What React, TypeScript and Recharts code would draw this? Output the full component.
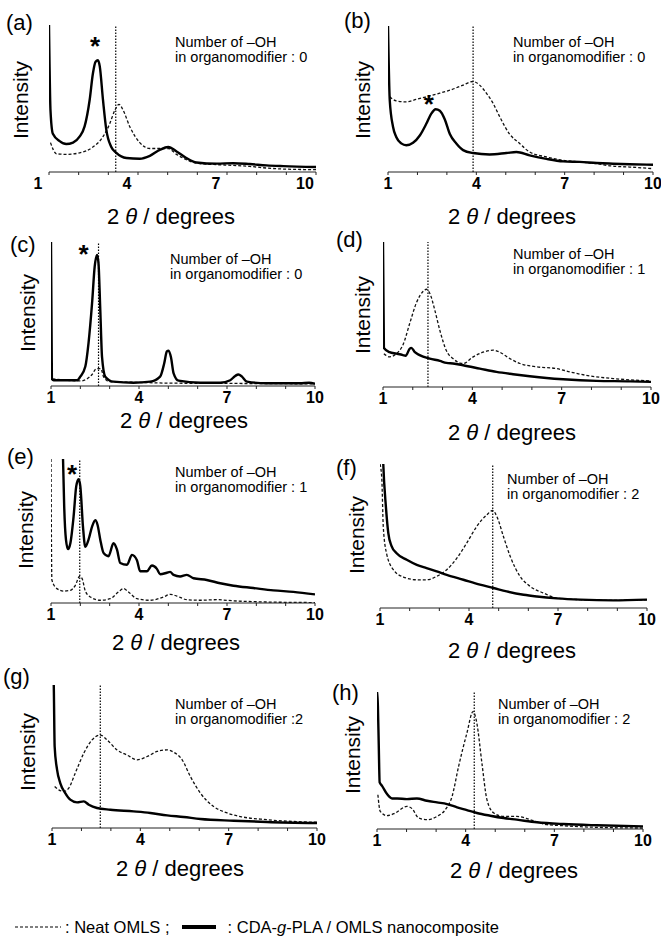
import React from "react";
import { Line, LineChart, ReferenceDot, ReferenceLine, XAxis, YAxis } from "recharts";

const FONT = "Arial, 'Liberation Sans', Helvetica, sans-serif";

// 2θ ticks: minor marks at every degree, labels only on these
const xTicks = [1, 2, 3, 4, 5, 6, 7, 8, 9, 10];
const xLabels = [1, 4, 7, 10];

// [2θ, intensity (0-100 of the frame height)]
const aNeat = [[1.05, 20], [1.25, 12.4], [1.58, 12], [2.03, 13], [2.48, 17], [2.82, 24], [3.05, 33], [3.22, 42], [3.36, 46], [3.5, 42], [3.72, 31], [4.06, 20], [4.4, 16], [4.73, 16], [5.02, 16], [5.3, 12], [5.63, 8.4], [5.97, 6], [6.65, 5], [7.21, 4.5], [7.77, 3.8], [8.33, 2.7], [8.9, 2], [10, 1.6]];
const aComp = [[1.0, 100], [1.05, 42], [1.13, 26], [1.36, 21], [1.58, 19], [1.81, 20], [2.03, 24], [2.2, 31], [2.37, 49], [2.48, 67], [2.57, 75], [2.65, 76], [2.71, 72], [2.82, 49], [2.93, 29], [3.1, 17], [3.27, 13], [3.61, 9.5], [4.06, 9], [4.4, 11], [4.73, 15], [5.02, 17], [5.3, 14], [5.63, 9.5], [5.97, 6.5], [6.65, 5.7], [7.21, 6], [7.77, 5.4], [8.33, 4.5], [8.9, 4], [10, 3.4]];

const bNeat = [[1.06, 51.5], [1.28, 48.7], [1.62, 48], [1.96, 49.7], [2.3, 51.5], [2.76, 54], [3.1, 56], [3.55, 59.5], [3.89, 62], [4.11, 59.5], [4.34, 54], [4.57, 47], [4.79, 38], [5.13, 26], [5.47, 19.5], [5.81, 13.7], [6.38, 10.3], [6.95, 8], [7.51, 6.9], [8.08, 5.7], [8.64, 4], [9.21, 3.4], [10, 2.3]];
const bComp = [[1.0, 100], [1.06, 49], [1.17, 31], [1.28, 24], [1.45, 19.6], [1.62, 18.3], [1.85, 20], [2.08, 25], [2.3, 33], [2.47, 40], [2.62, 43], [2.76, 42], [2.93, 36], [3.1, 26], [3.32, 19.5], [3.55, 15], [3.89, 13], [4.45, 12], [5.02, 13], [5.36, 13.7], [5.81, 11.4], [6.38, 9], [6.95, 7.3], [7.51, 6.9], [8.08, 6.2], [8.64, 5.7], [9.21, 5.3], [10, 5]];

const cNeat = [[1.05, 5], [1.5, 4], [2.0, 3.5], [2.4, 8], [2.55, 12], [2.7, 12], [2.8, 6], [3.0, 3], [4, 2.5], [5, 2], [7, 1.8], [10, 1.5]];
const cComp = [[1.0, 100], [1.03, 5], [1.09, 4], [1.89, 4], [2.0, 6.5], [2.17, 13.5], [2.28, 30], [2.4, 57.5], [2.49, 83], [2.57, 91], [2.62, 85], [2.68, 53], [2.74, 20], [2.85, 6.5], [3.13, 3], [3.81, 2.3], [4.38, 3], [4.72, 6.5], [4.86, 15.8], [4.95, 24], [5.01, 24.6], [5.09, 20], [5.18, 8.8], [5.35, 3.7], [6.09, 2.3], [6.77, 2.3], [7.11, 4], [7.28, 7], [7.39, 8], [7.51, 6.5], [7.68, 3], [8.36, 1.9], [9.49, 1.9], [9.8, 2.3], [10, 1.5]];

const dNeat = [[1.03, 23], [1.22, 20.8], [1.45, 23], [1.67, 29], [1.9, 44], [2.12, 58], [2.35, 66], [2.46, 67.4], [2.57, 64.7], [2.74, 53], [2.91, 39], [3.13, 25], [3.35, 19.6], [3.69, 16.2], [4.03, 20.8], [4.36, 24], [4.7, 25.4], [4.92, 24], [5.26, 19.6], [5.6, 16.2], [6.16, 13.9], [6.83, 12.7], [7.28, 10.4], [7.95, 7.6], [8.74, 5.8], [10, 4.2]];
const dComp = [[1.0, 100], [1.03, 27], [1.22, 24], [1.45, 23], [1.67, 22], [1.76, 21.5], [1.9, 26.5], [1.95, 27], [2.07, 24], [2.23, 22], [2.57, 19.6], [2.91, 18], [3.13, 16.6], [3.35, 16.2], [3.69, 15], [4.25, 12.7], [4.81, 10.4], [5.37, 8.8], [5.93, 7.4], [6.49, 6.2], [7.05, 5.3], [8.17, 4.2], [9.3, 3.9], [10, 3.5]];

const eNeat = [[1.0, 100], [1.03, 16], [1.2, 10], [1.43, 8.3], [1.66, 8.8], [1.83, 12.3], [1.98, 18.6], [2.06, 17], [2.17, 8.3], [2.34, 4.2], [2.68, 1.9], [3.02, 3], [3.3, 7.7], [3.47, 10], [3.64, 7.7], [3.93, 3], [4.38, 1.9], [4.84, 4.2], [5.06, 6], [5.29, 4.8], [5.63, 2.3], [6.09, 1.9], [6.65, 2.3], [7.22, 1.5], [8.36, 0.7], [10, 0.3]];
const eComp = [[1.37, 140], [1.41, 100], [1.45, 67], [1.51, 44], [1.58, 37.4], [1.66, 41.5], [1.77, 60], [1.86, 81], [1.94, 86], [2.0, 81], [2.09, 53], [2.17, 39], [2.28, 44], [2.4, 53], [2.51, 57.5], [2.59, 54], [2.68, 44], [2.79, 34.8], [2.96, 32.5], [3.13, 41.5], [3.25, 37], [3.36, 27.8], [3.59, 26.6], [3.76, 33.4], [3.93, 29.7], [4.04, 22], [4.27, 22], [4.44, 26], [4.61, 23.7], [4.72, 20], [4.95, 21], [5.06, 21.6], [5.18, 19.5], [5.4, 18.4], [5.63, 19.5], [5.86, 17.2], [6.31, 16], [6.77, 13.7], [7.22, 12], [7.9, 10.4], [8.58, 8.8], [9.26, 7.7], [10, 6]];

const fNeat = [[1.0, 100], [1.06, 90], [1.11, 56.6], [1.22, 38], [1.45, 26.6], [1.79, 21.5], [2.24, 19.6], [2.57, 19.6], [2.91, 22], [3.25, 26.6], [3.59, 34.6], [3.92, 45], [4.26, 56.6], [4.6, 64.7], [4.8, 67.7], [4.94, 63.5], [5.16, 49.7], [5.39, 35.8], [5.72, 22], [6.06, 15], [6.51, 10.4], [6.96, 6.9], [7.75, 5.8], [8.87, 5.3], [10, 5.8]];
const fComp = [[1.04, 150], [1.11, 100], [1.2, 70], [1.28, 52], [1.39, 43], [1.56, 38], [1.9, 33.5], [2.24, 30], [2.57, 27.7], [2.91, 25.4], [3.25, 23], [3.81, 19.6], [4.37, 16.2], [4.82, 13.9], [5.27, 11.5], [5.84, 9.2], [6.29, 8], [6.96, 6.7], [7.75, 5.8], [8.87, 5.3], [10, 5.8]];

const gNeat = [[1.09, 29], [1.23, 26.7], [1.4, 25.6], [1.57, 27.9], [1.79, 38.4], [2.08, 52.3], [2.36, 61.6], [2.64, 65], [2.87, 61.6], [3.21, 54.6], [3.55, 51], [3.89, 47.7], [4.23, 50], [4.57, 53.5], [4.91, 54.6], [5.13, 53], [5.42, 47.7], [5.7, 36], [6.04, 24.4], [6.49, 15], [6.95, 10.5], [7.4, 8], [8.3, 5.8], [10, 4]];
const gComp = [[1.04, 110], [1.06, 100], [1.09, 57], [1.17, 41], [1.28, 31.4], [1.45, 24.4], [1.62, 19.8], [1.85, 17.9], [2.08, 18.6], [2.25, 16.3], [2.53, 14], [2.98, 12.8], [3.77, 11.6], [4.34, 10.5], [4.91, 8.8], [5.47, 7.7], [6.04, 6.3], [7.17, 5.1], [8.3, 4.2], [10, 3.5]];

const hNeat = [[1.03, 25], [1.11, 12.9], [1.34, 9.7], [1.62, 11.7], [2.01, 16.5], [2.18, 15], [2.41, 8], [2.69, 6.8], [3.03, 9.2], [3.31, 14], [3.54, 23.8], [3.76, 45.6], [4.04, 69.9], [4.25, 85.7], [4.38, 77], [4.55, 48], [4.72, 21.4], [4.95, 11.7], [5.28, 9.2], [5.73, 9.2], [6.19, 6.8], [6.75, 3.2], [7.31, 2.4], [8.44, 1.2], [10, 0.7]];
const hComp = [[1.0, 100], [1.03, 90], [1.06, 60.7], [1.09, 34], [1.17, 31.5], [1.34, 25.5], [1.51, 22.3], [1.68, 22.3], [2.01, 21.8], [2.35, 22.3], [2.69, 20.6], [3.03, 19.4], [3.37, 18.2], [3.71, 15.8], [4.04, 13.8], [4.38, 11.7], [4.83, 9.7], [5.28, 8], [5.73, 6.8], [6.41, 4.9], [7.31, 3.6], [8.44, 2.7], [10, 1.9]];

// d-spacing guide line (2θ) and "*" marker per panel
const refLines = { a: 3.25, b: 3.89, c: 2.62, d: 2.51, e: 1.98, f: 4.8, g: 2.64, h: 4.29 };
const stars = { a: [2.55, 86], b: [2.39, 47], c: [2.11, 92], e: [1.72, 90] };
const ohCount = { a: " : 0", b: " : 0", c: " : 0", d: " : 1", e: " : 1", f: " : 2", g: " :2", h: " : 2" };

const series = {
  a: [aNeat, aComp], b: [bNeat, bComp], c: [cNeat, cComp], d: [dNeat, dComp],
  e: [eNeat, eComp], f: [fNeat, fComp], g: [gNeat, gComp], h: [hNeat, hComp],
};

// page layout: frame [l,t,r,b], panel letter, "Intensity", note, x title
const layout = {
  a: { box: [49, 25, 316, 172], dx: -11, lab: [6, 23], int: [21, 100], ann: [175, 43], title: [171, 217] },
  b: { box: [388, 26, 653, 172], dx: 0, lab: [344, 21], int: [363, 100], ann: [513, 43], title: [512, 217] },
  c: { box: [51, 242, 315, 386], dx: 0, lab: [10, 245], int: [28, 313], ann: [170, 260], title: [184, 421] },
  d: { box: [383, 242, 651, 387], dx: 0, lab: [336, 240], int: [363, 315], ann: [513, 255], title: [512, 433] },
  e: { box: [51, 459, 315, 603], dx: 0, lab: [7, 457], int: [26, 530], ann: [175, 473], title: [176, 643] },
  f: { box: [380, 464, 647, 608], dx: 0, lab: [336, 468], int: [357, 535], ann: [507, 480], title: [512, 651] },
  g: { box: [52, 685, 317, 828], dx: 0, lab: [3, 677], int: [28, 752], ann: [175, 705], title: [180, 869] },
  h: { box: [377, 692, 643, 829], dx: 0, lab: [332, 693], int: [353, 755], ann: [498, 705], title: [514, 871] },
};

const MX = 18;
const MT = 6;
const XH = 34;

const toPts = (arr: number[][]) => arr.map(([x, y]) => ({ x, y }));

function Panel({ id }: { id: string }) {
  const L = layout[id];
  const [l, t, r, b] = L.box;
  const [neat, comp] = series[id];
  const star = stars[id];
  return (
    <>
      <div style={{ position: "absolute", left: l - MX, top: t - MT }}>
        <LineChart width={r - l + 2 * MX} height={b - t + MT + XH} margin={{ top: MT, right: MX, left: MX, bottom: 0 }}>
          <XAxis
            dataKey="x"
            type="number"
            domain={[1, 10]}
            ticks={xTicks}
            interval={0}
            allowDataOverflow
            tickFormatter={(v) => (xLabels.includes(v) ? String(v) : "")}
            tickSize={3}
            tickMargin={3}
            height={XH}
            stroke="#222"
            tick={{ fill: "#000", fontSize: 16, fontWeight: "bold", fontFamily: FONT, dx: L.dx }}
          />
          <XAxis xAxisId="top" orientation="top" type="number" domain={[1, 10]} tick={false} tickLine={false} height={0} stroke="#999" />
          <YAxis type="number" domain={[0, 100]} allowDataOverflow tick={false} tickLine={false} width={0} stroke="#555" />
          <YAxis yAxisId="right" orientation="right" type="number" domain={[0, 100]} tick={false} tickLine={false} width={0} stroke="#999" />
          <ReferenceLine x={refLines[id]} stroke="#000" strokeWidth={1.2} strokeDasharray="1.5 1.5" />
          <Line data={toPts(neat)} dataKey="y" type="monotone" stroke="#111" strokeWidth={1.3} strokeDasharray="3 2" dot={false} isAnimationActive={false} />
          <Line data={toPts(comp)} dataKey="y" type="monotone" stroke="#000" strokeWidth={2.4} dot={false} isAnimationActive={false} />
          {star && (
            <ReferenceDot x={star[0]} y={star[1]} r={0} stroke="none" label={{ value: "*", position: "center", fontSize: 26, fontWeight: "bold", fill: "#000", fontFamily: FONT }} />
          )}
        </LineChart>
      </div>
      <div style={{ position: "absolute", left: L.lab[0], top: L.lab[1] - 13, fontSize: 22, lineHeight: "26px" }}>({id})</div>
      <div style={{ position: "absolute", left: L.int[0], top: L.int[1], transform: "translate(-50%, -50%) rotate(-90deg)", fontSize: 21, whiteSpace: "nowrap" }}>
        Intensity
      </div>
      <div style={{ position: "absolute", left: L.ann[0], top: L.ann[1] - 8, fontSize: 14.5, lineHeight: "15px", whiteSpace: "nowrap" }}>
        Number of –OH
        <br />
        in organomodifier{ohCount[id]}
      </div>
      <div style={{ position: "absolute", left: L.title[0], top: L.title[1], transform: "translate(-50%, -50%)", fontSize: 22, lineHeight: "22px", whiteSpace: "nowrap" }}>
        2 <i>θ</i> / degrees
      </div>
    </>
  );
}

export default function App() {
  return (
    <div style={{ position: "absolute", left: 0, top: 0, width: 661, height: 947, background: "#fff", fontFamily: FONT, color: "#000", overflow: "hidden" }}>
      {["a", "b", "c", "d", "e", "f", "g", "h"].map((id) => (
        <Panel key={id} id={id} />
      ))}
      <div style={{ position: "absolute", left: 15, top: 917, fontSize: 16.5, lineHeight: "20px", whiteSpace: "nowrap", display: "flex", alignItems: "center" }}>
        <svg width={46} height={20}>
          <line x1={0} y1={10} x2={46} y2={10} stroke="#000" strokeWidth={1.2} strokeDasharray="3 2" />
        </svg>
        <span style={{ marginLeft: 4 }}>: Neat OMLS ;</span>
        <svg width={36} height={20} style={{ marginLeft: 12 }}>
          <line x1={0} y1={10} x2={34} y2={10} stroke="#000" strokeWidth={4} />
        </svg>
        <span style={{ marginLeft: 10 }}>
          : CDA-<i>g</i>-PLA / OMLS nanocomposite
        </span>
      </div>
    </div>
  );
}
